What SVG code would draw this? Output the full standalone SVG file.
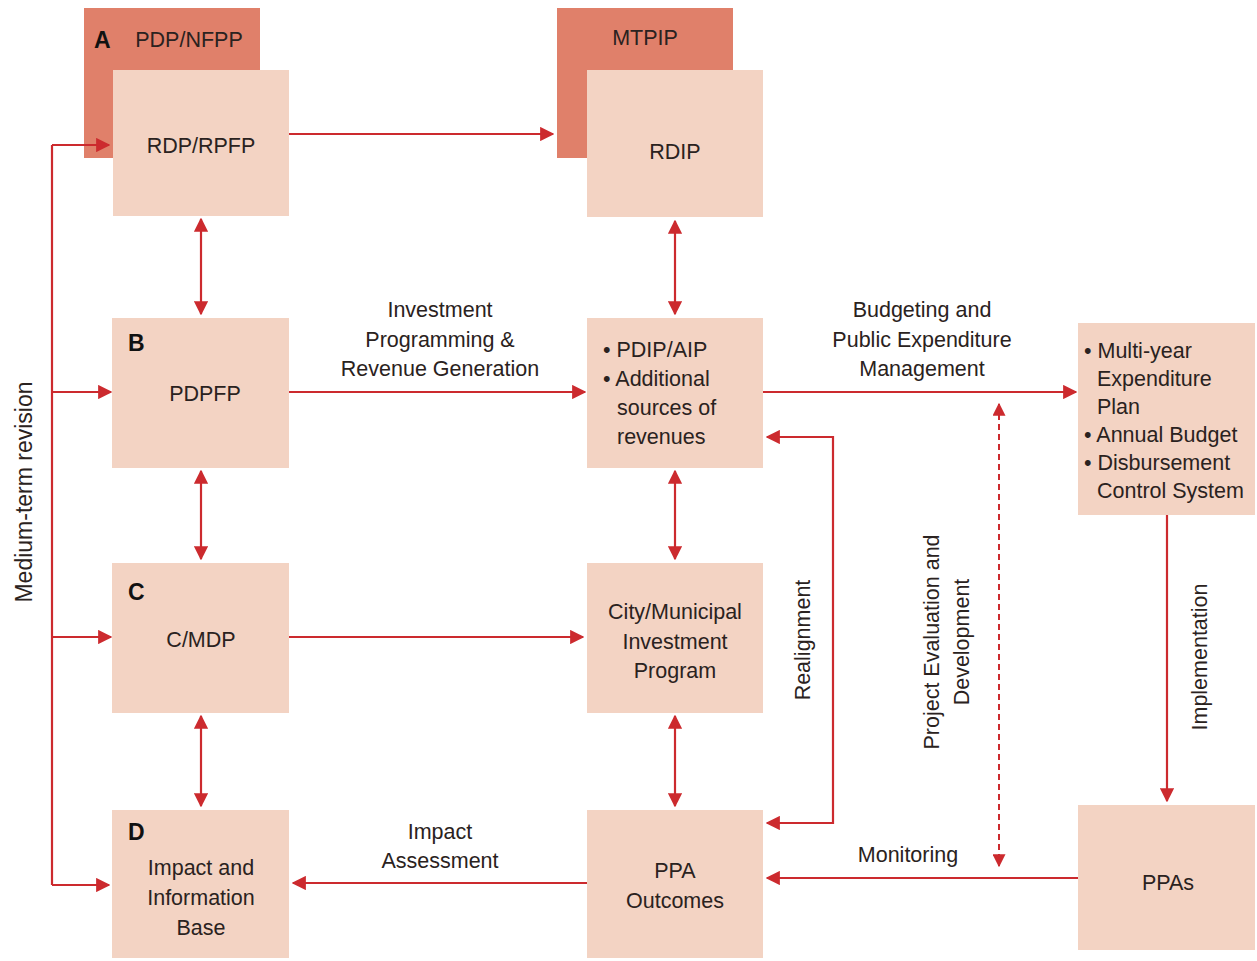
<svg xmlns="http://www.w3.org/2000/svg" width="1257" height="961" viewBox="0 0 1257 961">
<style>
.back{fill:#e0806a}
.box{fill:#f3d3c3}
.t{font-family:"Liberation Sans",Arial,sans-serif;font-size:21.5px;fill:#2a2220;text-anchor:middle}
.l{font-family:"Liberation Sans",Arial,sans-serif;font-size:21.5px;fill:#2a2220;text-anchor:start}
.b{font-family:"Liberation Sans",Arial,sans-serif;font-size:23px;font-weight:bold;fill:#111}
.c{fill:none;stroke:#cc2a2e;stroke-width:2.2}
.d{fill:none;stroke:#cc2a2e;stroke-width:2;stroke-dasharray:6,4}
</style>
<defs>
<marker id="ah" viewBox="0 0 10 10" refX="9" refY="5" markerWidth="6.5" markerHeight="6.5" orient="auto-start-reverse" markerUnits="strokeWidth">
<path d="M0,0 L10,5 L0,10 z" fill="#cc2a2e"/>
</marker>
</defs>
<rect width="1257" height="961" fill="#ffffff"/>

<g id="nodeA">
<rect class="back" x="84" y="8" width="176" height="150"/>
<rect class="box" x="113" y="70" width="176" height="146"/>
<text class="b" x="94" y="48">A</text>
<text class="t" x="189" y="47">PDP/NFPP</text>
<text class="t" x="201" y="153">RDP/RPFP</text>
</g>
<g id="nodeMTPIP">
<rect class="back" x="557" y="8" width="176" height="150"/>
<rect class="box" x="587" y="70" width="176" height="147"/>
<text class="t" x="645" y="45">MTPIP</text>
<text class="t" x="675" y="159">RDIP</text>
</g>
<g id="nodeB">
<rect class="box" x="112" y="318" width="177" height="150"/>
<text class="b" x="128" y="351">B</text>
<text class="t" x="205" y="401">PDPFP</text>
</g>
<g id="nodePDIP">
<rect class="box" x="587" y="318" width="176" height="150"/>
<text class="l" x="603" y="357">• PDIP/AIP</text>
<text class="l" x="603" y="386">• Additional</text>
<text class="l" x="617" y="415">sources of</text>
<text class="l" x="617" y="444">revenues</text>
</g>
<g id="nodeMYEP">
<rect class="box" x="1078" y="323" width="177" height="192"/>
<text class="l" x="1084" y="358">• Multi-year</text>
<text class="l" x="1097" y="386">Expenditure</text>
<text class="l" x="1097" y="414">Plan</text>
<text class="l" x="1084" y="442">• Annual Budget</text>
<text class="l" x="1084" y="470">• Disbursement</text>
<text class="l" x="1097" y="498">Control System</text>
</g>
<g id="nodeC">
<rect class="box" x="112" y="563" width="177" height="150"/>
<text class="b" x="128" y="600">C</text>
<text class="t" x="201" y="647">C/MDP</text>
</g>
<g id="nodeCity">
<rect class="box" x="587" y="563" width="176" height="150"/>
<text class="t" x="675" y="619">City/Municipal</text>
<text class="t" x="675" y="649">Investment</text>
<text class="t" x="675" y="678">Program</text>
</g>
<g id="nodeD">
<rect class="box" x="112" y="810" width="177" height="148"/>
<text class="b" x="128" y="840">D</text>
<text class="t" x="201" y="875">Impact and</text>
<text class="t" x="201" y="905">Information</text>
<text class="t" x="201" y="935">Base</text>
</g>
<g id="nodePPAOut">
<rect class="box" x="587" y="810" width="176" height="148"/>
<text class="t" x="675" y="878">PPA</text>
<text class="t" x="675" y="908">Outcomes</text>
</g>
<g id="nodePPAs">
<rect class="box" x="1078" y="805" width="177" height="145"/>
<text class="t" x="1168" y="890">PPAs</text>
</g>

<g id="connectors">
<path class="c" d="M289,134 H553" marker-end="url(#ah)"/>
<path class="c" d="M52,145 V885"/>
<path class="c" d="M52,145 H109" marker-end="url(#ah)"/>
<path class="c" d="M52,392 H111" marker-end="url(#ah)"/>
<path class="c" d="M52,637 H111" marker-end="url(#ah)"/>
<path class="c" d="M52,885 H109" marker-end="url(#ah)"/>
<path class="c" d="M201,219 V314" marker-start="url(#ah)" marker-end="url(#ah)"/>
<path class="c" d="M201,471 V559" marker-start="url(#ah)" marker-end="url(#ah)"/>
<path class="c" d="M201,716 V806" marker-start="url(#ah)" marker-end="url(#ah)"/>
<path class="c" d="M675,221 V314" marker-start="url(#ah)" marker-end="url(#ah)"/>
<path class="c" d="M675,471 V559" marker-start="url(#ah)" marker-end="url(#ah)"/>
<path class="c" d="M675,716 V806" marker-start="url(#ah)" marker-end="url(#ah)"/>
<path class="c" d="M289,392 H585" marker-end="url(#ah)"/>
<path class="c" d="M763,392 H1076" marker-end="url(#ah)"/>
<path class="c" d="M289,637 H583" marker-end="url(#ah)"/>
<path class="c" d="M767,437 H833 V823 H767" marker-start="url(#ah)" marker-end="url(#ah)"/>
<path class="d" d="M999,404 V866" marker-start="url(#ah)" marker-end="url(#ah)"/>
<path class="c" d="M1167,515 V801" marker-end="url(#ah)"/>
<path class="c" d="M1078,878 H767" marker-end="url(#ah)"/>
<path class="c" d="M587,883 H293" marker-end="url(#ah)"/>
</g>

<g id="labels">
<text class="t" x="440" y="317">Investment</text>
<text class="t" x="440" y="347">Programming &amp;</text>
<text class="t" x="440" y="376">Revenue Generation</text>
<text class="t" x="922" y="317">Budgeting and</text>
<text class="t" x="922" y="347">Public Expenditure</text>
<text class="t" x="922" y="376">Management</text>
<text class="t" x="440" y="839">Impact</text>
<text class="t" x="440" y="868">Assessment</text>
<text class="t" x="908" y="862">Monitoring</text>
<text class="t" transform="translate(32,492) rotate(-90)" style="font-size:23px">Medium-term revision</text>
<text class="t" transform="translate(810,640) rotate(-90)">Realignment</text>
<text class="t" transform="translate(939,642) rotate(-90)">Project Evaluation and</text>
<text class="t" transform="translate(969,642) rotate(-90)">Development</text>
<text class="t" transform="translate(1207,657) rotate(-90)">Implementation</text>
</g>
</svg>
